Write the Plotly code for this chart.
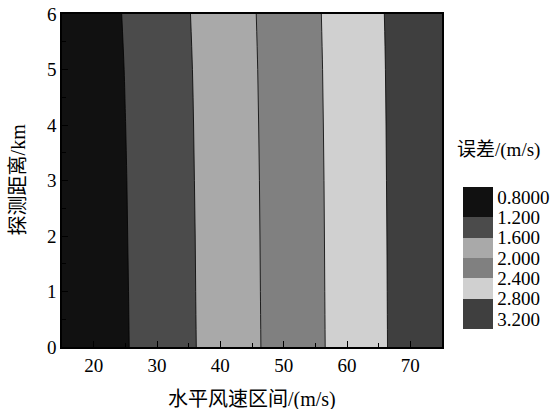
import plotly.graph_objects as go

# Horizontal wind speed grid (m/s)
wind_speed = [15, 20, 25, 30, 35, 40, 45, 50, 55, 60, 65, 70, 75]
# Detection distance grid (km)
distance = [0, 1, 2, 3, 4, 5, 6]
# Error values (m/s), rows = distance, cols = wind speed
error = [
    [0.802, 0.990, 1.177, 1.365, 1.553, 1.748, 1.945, 2.141, 2.337, 2.539, 2.743, 2.947, 3.151],
    [0.807, 0.995, 1.181, 1.369, 1.557, 1.751, 1.948, 2.144, 2.340, 2.541, 2.745, 2.949, 3.153],
    [0.812, 1.000, 1.186, 1.373, 1.560, 1.754, 1.951, 2.146, 2.342, 2.544, 2.747, 2.951, 3.154],
    [0.819, 1.005, 1.191, 1.378, 1.565, 1.758, 1.954, 2.150, 2.345, 2.546, 2.750, 2.953, 3.156],
    [0.826, 1.013, 1.198, 1.384, 1.570, 1.763, 1.959, 2.154, 2.349, 2.550, 2.753, 2.955, 3.158],
    [0.837, 1.023, 1.207, 1.392, 1.577, 1.770, 1.965, 2.159, 2.354, 2.555, 2.757, 2.959, 3.161],
    [0.854, 1.038, 1.221, 1.405, 1.589, 1.780, 1.974, 2.168, 2.362, 2.562, 2.764, 2.965, 3.166],
]
levels = [0.8, 1.2, 1.6, 2.0, 2.4, 2.8, 3.2]
level_labels = ["0.8000", "1.200", "1.600", "2.000", "2.400", "2.800", "3.200"]
band_colors = ["#111111", "#4b4b4b", "#a9a9a9", "#808080", "#d0d0d0", "#3f3f3f"]
x_title = "水平风速区间/(m/s)"
y_title = "探测距离/km"
legend_title = "误差/(m/s)"

# The legend runs from small (top) to large (bottom): plot the negated error so
# the colorbar orientation matches, and label ticks with the positive values.
neg_error = [[-v for v in row] for row in error]
neg_levels = [-v for v in levels]
rev_colors = band_colors[::-1]  # ordered from -3.2 upwards

cs = [[0.0, rev_colors[0]]]
for i, c in enumerate(rev_colors, start=1):
    cs.append([(2 * i - 1) / 14, c])
    cs.append([(2 * i) / 14, c])
cs.append([1.0, rev_colors[-1]])

FONT = "Liberation Serif, Noto Sans CJK SC"
contour_levels = dict(start=min(neg_levels), end=max(neg_levels), size=0.4)

fill_trace = go.Contour(
    x=wind_speed,
    y=distance,
    z=neg_error,
    autocontour=False,
    contours=dict(**contour_levels, coloring="fill", showlines=False),
    colorscale=cs,
    line=dict(width=0),
    colorbar=dict(
        thickness=30,
        len=142,
        lenmode="pixels",
        x=1.055,
        xanchor="left",
        xpad=0,
        y=0.054,
        yanchor="bottom",
        ypad=0,
        outlinewidth=0,
        tickvals=neg_levels,
        ticktext=level_labels,
        ticks="",
        tickfont=dict(family=FONT, size=19, color="#000000"),
    ),
    hoverinfo="skip",
)
line_trace = go.Contour(
    x=wind_speed,
    y=distance,
    z=neg_error,
    autocontour=False,
    contours=dict(**contour_levels, coloring="none"),
    line=dict(color="#000000", width=0.8),
    showscale=False,
    hoverinfo="skip",
)

fig = go.Figure([fill_trace, line_trace])

fig.update_layout(
    width=551,
    height=409,
    margin=dict(l=62, r=109, t=14, b=62, autoexpand=False),
    paper_bgcolor="white",
    plot_bgcolor="white",
    font=dict(family=FONT, size=19, color="#000000"),
    annotations=[
        dict(
            text=legend_title,
            xref="paper", yref="paper",
            x=1.035, y=0.554,
            xanchor="left", yanchor="bottom",
            showarrow=False,
            font=dict(family=FONT, size=19, color="#000000"),
        ),
        dict(
            text=x_title,
            xref="paper", yref="paper",
            x=0.5, y=-0.157,
            xanchor="center", yanchor="middle",
            showarrow=False,
            font=dict(family=FONT, size=20, color="#000000"),
        ),
        dict(
            text=y_title,
            xref="paper", yref="paper",
            x=-0.116, y=0.503,
            xanchor="center", yanchor="middle",
            textangle=-90,
            showarrow=False,
            font=dict(family=FONT, size=20, color="#000000"),
        ),
    ],
)

fig.update_xaxes(
    range=[15, 75],
    tickvals=[20, 30, 40, 50, 60, 70],
    ticks="inside",
    ticklen=6,
    tickwidth=1.2,
    tickcolor="#000000",
    minor=dict(tickvals=[25, 35, 45, 55, 65], ticks="inside", ticklen=4, tickcolor="#000000", tickwidth=1.2),
    showline=True,
    linecolor="#000000",
    linewidth=1.5,
    mirror=True,
    showgrid=False,
    zeroline=False,
    automargin=False,
    tickfont=dict(family=FONT, size=19),
)
fig.update_yaxes(
    range=[0, 6],
    tickvals=[0, 1, 2, 3, 4, 5, 6],
    ticks="inside",
    ticklen=6,
    tickwidth=1.2,
    tickcolor="#000000",
    minor=dict(tickvals=[0.5, 1.5, 2.5, 3.5, 4.5, 5.5], ticks="inside", ticklen=4, tickcolor="#000000", tickwidth=1.2),
    showline=True,
    linecolor="#000000",
    linewidth=1.5,
    mirror=True,
    showgrid=False,
    zeroline=False,
    automargin=False,
    tickfont=dict(family=FONT, size=19),
)

fig.write_html(
    "out.html",
    config={"displayModeBar": False},
    post_script="document.body.style.margin='0';",
)
